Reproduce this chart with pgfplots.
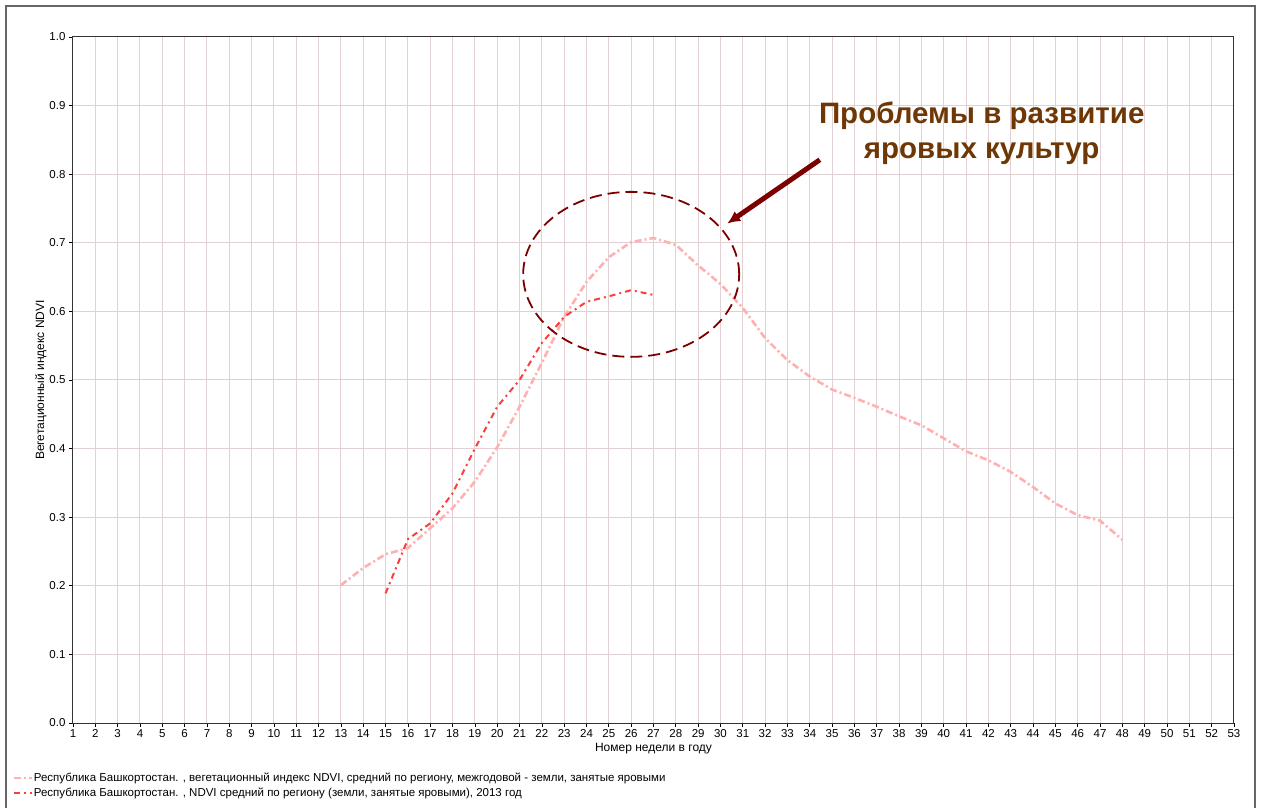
\documentclass[border=0pt]{standalone}
\usepackage{fontspec}
\setmainfont{Liberation Sans}
\usepackage{pgfplots}
\pgfplotsset{compat=1.18}
\usetikzlibrary{arrows.meta}
\definecolor{gridc}{RGB}{226,208,212}
\definecolor{seriesA}{RGB}{255,176,176}
\definecolor{seriesB}{RGB}{255,60,60}
\definecolor{annot}{RGB}{125,0,0}
\definecolor{titlec}{RGB}{110,55,5}
\begin{document}
\begin{tikzpicture}[x=1pt,y=1pt]
\useasboundingbox (0,0) rectangle (1261,807);
\draw[gray!80!black, line width=1.5pt] (6,-5) -- (6,801) -- (1255,801) -- (1255,-5);
\begin{axis}[
  at={(73pt,84pt)}, anchor=south west,
  scale only axis, width=1161pt, height=686pt,
  xmin=1, xmax=53, ymin=0, ymax=1,
  xtick={1,...,53}, ytick={0,0.1,...,1.0},
  yticklabel style={/pgf/number format/fixed, /pgf/number format/fixed zerofill, /pgf/number format/precision=1},
  /pgf/number format/assume math mode=true,
  tick label style={font=\fontsize{11.5}{13}\selectfont, black},
  xticklabel style={yshift=1pt},
  tick align=outside, tick pos=left,
  major tick length=4pt,
  every tick/.style={black, line width=0.7pt},
  axis line style={black!80, line width=1pt},
  grid=major, major grid style={gridc, line width=1pt},
  xlabel={Номер недели в году}, ylabel={Вегетационный индекс NDVI},
  label style={font=\fontsize{12}{14}\selectfont},
  xlabel style={yshift=1pt},
  ylabel style={yshift=-4pt},
  legend style={at={(-0.0525,-0.071)}, anchor=north west, draw=none, fill=none,
    font=\fontsize{11.5}{13}\selectfont, row sep=3pt, inner sep=0pt,
    nodes={inner sep=1pt, xshift=2pt}},
  legend cell align=left,
  legend image code/.code={\draw[#1] (0pt,0pt) -- (18pt,0pt);},
]
\addplot[seriesA, line width=2.6pt, dash pattern=on 7pt off 3pt on 2pt off 3pt] coordinates {
(13,0.201)(14,0.226)(15,0.246)(16,0.255)(17,0.284)(18,0.313)(19,0.352)(20,0.402)
(21,0.461)(22,0.525)(23,0.592)(24,0.643)(25,0.679)(26,0.701)(27,0.707)(28,0.697)
(29,0.667)(30,0.640)(31,0.605)(32,0.561)(33,0.529)(34,0.505)(35,0.486)(36,0.474)
(37,0.461)(38,0.447)(39,0.434)(40,0.415)(41,0.396)(42,0.383)(43,0.366)(44,0.344)
(45,0.320)(46,0.303)(47,0.295)(48,0.267)};
\addlegendentry{Республика Башкортостан. , вегетационный индекс NDVI, средний по региону, межгодовой - земли, занятые яровыми}
\addplot[seriesB, line width=2pt, dash pattern=on 6pt off 4pt on 2pt off 4pt] coordinates {
(15,0.189)(16,0.268)(17,0.291)(18,0.335)(19,0.400)(20,0.461)(21,0.500)(22,0.554)
(23,0.592)(24,0.614)(25,0.622)(26,0.631)(27,0.624)};
\addlegendentry{Республика Башкортостан. , NDVI средний по региону (земли, занятые яровыми), 2013 год}
\draw[annot, line width=1.8pt, dash pattern=on 12pt off 6pt] (axis cs:26,0.654) ellipse [x radius=108pt, y radius=82.5pt];
\draw[annot, line width=5pt, -{Latex[length=13pt,width=12pt]}] (axis cs:34.45,0.821) -- (axis cs:30.3,0.728);
\node[titlec, font=\fontsize{29.5}{35}\selectfont\bfseries, align=center] at (axis cs:41.7,0.860) {Проблемы в развитие\\яровых культур};
\end{axis}
\end{tikzpicture}
\end{document}
